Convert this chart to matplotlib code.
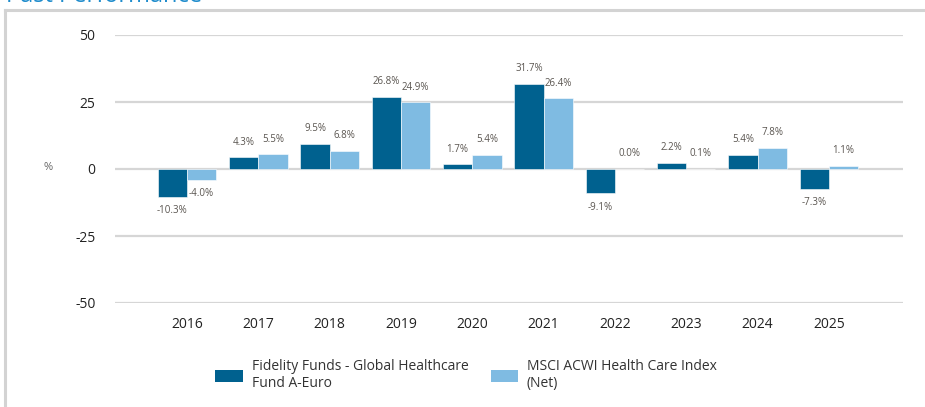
import matplotlib.pyplot as plt
import numpy as np
from matplotlib.lines import Line2D
from matplotlib.patches import Patch

years = ["2016", "2017", "2018", "2019", "2020", "2021", "2022", "2023", "2024", "2025"]
fund = [-10.3, 4.3, 9.5, 26.8, 1.7, 31.7, -9.1, 2.2, 5.4, -7.3]
index = [-4.0, 5.5, 6.8, 24.9, 5.4, 26.4, 0.0, 0.1, 7.8, 1.1]
yticks = [50, 25, 0, -25, -50]
fund_name = "Fidelity Funds - Global Healthcare\nFund A-Euro"
index_name = "MSCI ACWI Health Care Index\n(Net)"

dark = "#00618f"
light = "#7fbbe2"
grid = "#d6d6d6"
label_col = "#5a5550"

plt.rcParams['font.family'] = ['Open Sans', 'DejaVu Sans']

fig = plt.figure(figsize=(9.25, 4.07), dpi=100)
ax = fig.add_axes([115 / 925, 1 - 303 / 407, 788 / 925, 268 / 407])

x = np.arange(len(years))
w = 0.41
b1 = ax.bar(x - w / 2, fund, w, color=dark, edgecolor="white", linewidth=0.4, zorder=3)
b2 = ax.bar(x + w / 2, index, w, color=light, edgecolor="white", linewidth=0.4, zorder=3)

for bars, vals in ((b1, fund), (b2, index)):
    for r, v in zip(bars, vals):
        cx = r.get_x() + r.get_width() / 2
        if v < 0:
            ax.annotate(f"{v:.1f}%", (cx, v), xytext=(0, -6), textcoords="offset points",
                        ha="center", va="top", fontsize=7, color=label_col)
        else:
            ax.annotate(f"{v:.1f}%", (cx, v), xytext=(0, 7), textcoords="offset points",
                        ha="center", va="bottom", fontsize=7, color=label_col)

ax.set_xlim(-1.01, 10.04)
ax.set_ylim(-50, 50)
ax.set_yticks(yticks)
ax.set_yticklabels([str(t) for t in yticks])
for t in yticks:
    ax.axhline(t, color=grid, linewidth=1.6, zorder=1)
ax.set_xticks(x)
ax.set_xticklabels(years)
ax.tick_params(axis="both", length=0, labelsize=10, colors="#222222")
ax.tick_params(axis="y", pad=14)
ax.tick_params(axis="x", pad=10)
for s in ax.spines.values():
    s.set_visible(False)

fig.text(48 / 925, 1 - 168 / 407, "%", fontsize=8, color="#666666", ha="center", va="center")

# outer frame and cut-off title
fig.add_artist(Line2D([5 / 925, 5 / 925], [0, 1 - 10 / 407], color="#d3d3d3", linewidth=2.2,
                      transform=fig.transFigure))
fig.add_artist(Line2D([5 / 925, 1], [1 - 10 / 407, 1 - 10 / 407], color="#d3d3d3", linewidth=2.2,
                      transform=fig.transFigure))
fig.text(6 / 925, 1 - 1.5 / 407, "Past Performance", fontsize=17, color="#1f8ccc",
         ha="left", va="baseline")

handles = [Patch(facecolor=dark), Patch(facecolor=light)]
fig.legend(handles, [fund_name, index_name], loc="center", bbox_to_anchor=(466 / 925, 1 - 375 / 407),
           ncol=2, frameon=False, fontsize=10, handlelength=2.0, handleheight=1.0,
           handletextpad=0.6, columnspacing=1.6, labelcolor="#333333")

fig.savefig("out.png", dpi=100)
